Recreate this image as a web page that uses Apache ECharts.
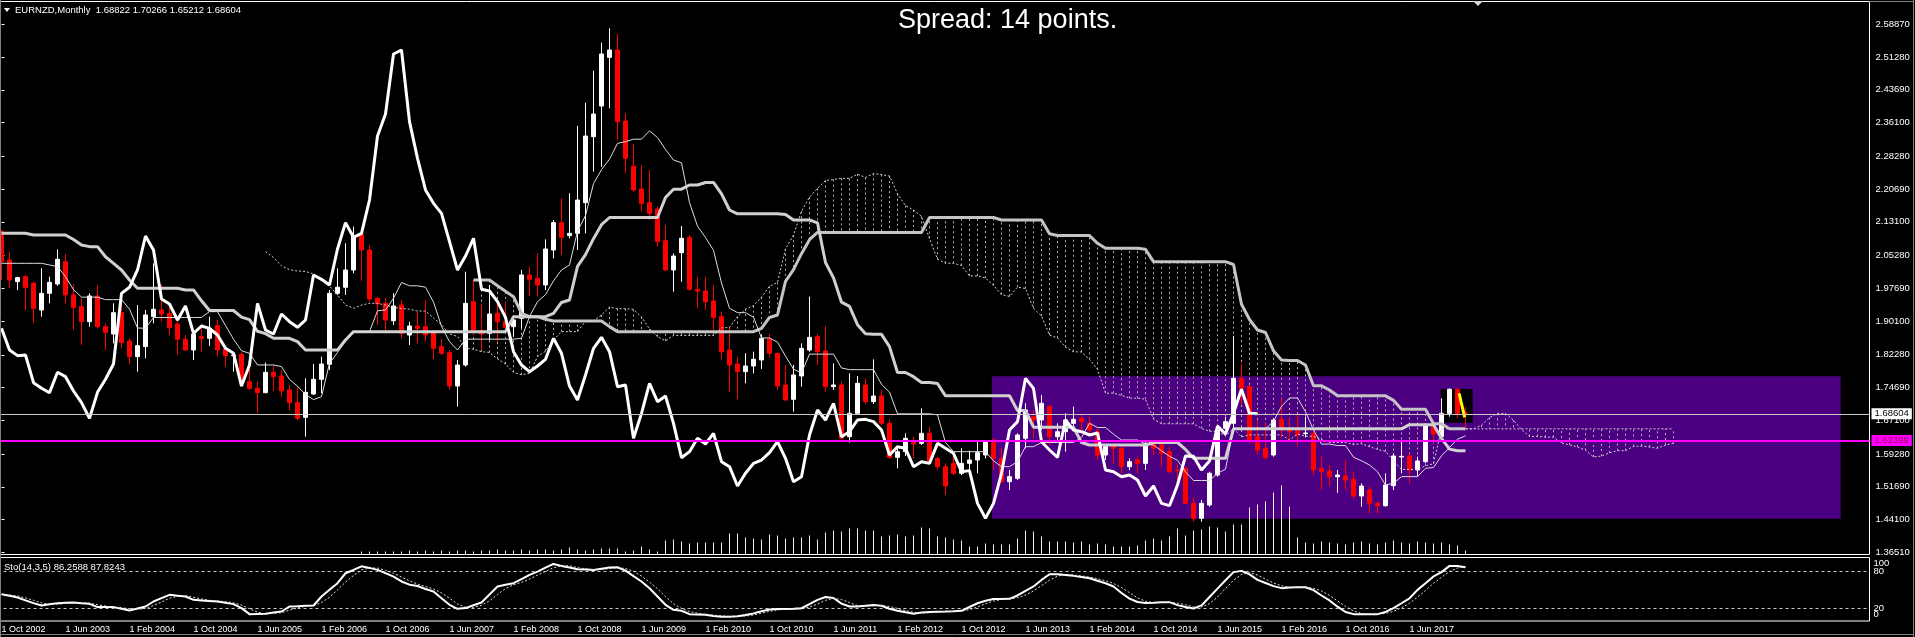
<!DOCTYPE html>
<html><head><meta charset="utf-8">
<script src="https://cdn.jsdelivr.net/npm/echarts/dist/echarts.min.js"></script>
<style>html,body{margin:0;padding:0;background:#000;overflow:hidden}#c{width:1915px;height:637px}</style>
</head><body><div id="c"></div>
<script>
// ---------- DATA (EURNZD monthly) ----------
const opens=[2.1082,2.0425,1.9923,2.0039,1.9884,1.9266,1.9652,1.9869,2.0386,1.9614,
1.9344,1.8996,1.9591,1.8880,1.8710,1.9204,1.8548,1.8185,1.8417,1.9112,
1.9266,1.9189,1.8942,1.8587,1.8339,1.8648,1.8610,1.8903,1.8362,1.8208,
1.8239,1.7605,1.7451,1.7350,1.7822,1.7736,1.7412,1.7119,1.6779,1.7320,
1.7660,1.8007,1.9652,1.9792,2.0193,2.1020,2.0657,1.9537,1.9420,1.9018,
1.9382,1.8686,1.8895,1.8880,1.8725,1.8416,1.8277,1.7504,1.7991,1.9459,
1.8787,1.8725,1.9189,1.8995,1.8880,1.9073,2.0077,2.0000,1.9845,2.0656,
2.1290,2.0989,2.1042,2.1753,2.3283,2.3993,2.5121,2.5291,2.3646,2.2600,
2.2070,2.1753,2.1606,2.0873,2.0193,2.0595,2.0950,1.9745,1.9706,1.9475,
1.9111,1.8339,1.8014,1.7837,1.7968,1.8107,1.8586,1.8262,1.7528,1.7196,
1.7736,1.8339,1.8648,1.8316,1.7489,1.7528,1.6330,1.6871,1.7528,1.7141,
1.7273,1.6639,1.5851,1.5983,1.6214,1.6176,1.6407,1.5828,1.5635,1.5712,
1.5481,1.5712,1.5789,1.5905,1.6253,1.5828,1.5287,1.5364,1.6292,1.6794,
1.6717,1.7025,1.6330,1.6446,1.6639,1.6755,1.6639,1.6446,1.5905,1.6098,
1.6060,1.5635,1.5789,1.5712,1.6176,1.6137,1.5983,1.5558,1.5597,1.4785,
1.4438,1.4747,1.5442,1.6523,1.6640,1.7682,1.7489,1.6330,1.6060,1.5906,
1.6732,1.6500,1.6469,1.6400,1.6407,1.5597,1.5535,1.5403,1.5419,1.5341,
1.4955,1.5095,1.4785,1.4731,1.5195,1.5860,1.5882,1.5558,1.5751,1.6577,
1.6330,1.6871,1.7427,1.68822];
const closes=[2.0386,1.9961,2.0016,1.9784,1.9305,1.9652,1.9907,2.0440,1.9614,1.9328,
1.8996,1.9591,1.8880,1.8749,1.9204,1.8509,1.8185,1.8440,1.9150,1.9282,
1.9174,1.8857,1.8587,1.8339,1.8710,1.8602,1.8841,1.8339,1.8208,1.8223,
1.7582,1.7451,1.7350,1.7822,1.7721,1.7389,1.7119,1.6756,1.7358,1.7660,
1.8015,1.9652,1.9792,2.0193,2.0981,2.0657,1.9521,1.9405,1.9034,1.9358,
1.8725,1.8895,1.8840,1.8686,1.8377,1.8262,1.7504,1.7991,1.9420,1.8802,
1.8709,1.9173,1.8995,1.8864,1.9034,2.0077,1.9977,1.9845,2.0679,2.1290,
2.0950,2.1042,2.1815,2.3298,2.3808,2.5199,2.5291,2.3630,2.2781,2.2047,
2.1738,2.1506,2.0849,2.0193,2.0517,2.0927,1.9745,1.9706,1.9459,1.9096,
1.8300,1.7991,1.7837,1.7968,1.8123,1.8609,1.8262,1.7504,1.7180,1.7760,
1.8377,1.8632,1.8300,1.7489,1.7528,1.6292,1.6871,1.7566,1.7141,1.7273,
1.6639,1.5843,1.5983,1.6292,1.6160,1.6407,1.5751,1.5635,1.5187,1.5481,
1.5712,1.5789,1.5960,1.6214,1.5828,1.5287,1.5403,1.6369,1.6948,1.6717,
1.7103,1.6330,1.6446,1.6717,1.6732,1.6678,1.6485,1.5905,1.6098,1.6060,
1.5635,1.5751,1.5712,1.6176,1.6060,1.5944,1.5519,1.5543,1.4785,1.4438,
1.4785,1.5481,1.6485,1.6678,1.7682,1.7450,1.6214,1.6021,1.5851,1.6716,
1.6485,1.6446,1.6369,1.6415,1.5558,1.5519,1.5403,1.5442,1.5326,1.4955,
1.5187,1.4785,1.4731,1.5210,1.5882,1.5874,1.5558,1.5766,1.6577,1.6392,
1.6871,1.7427,1.6871,1.68604];
const lows=[1.9961,1.9768,1.9730,1.9266,1.8957,1.9112,1.9421,1.9822,1.9421,1.8803,
1.8455,1.8880,1.8841,1.8339,1.8494,1.8378,1.8007,1.7837,1.8146,1.8957,
1.8996,1.8687,1.8223,1.8324,1.8108,1.8301,1.8432,1.8185,1.7953,1.7837,
1.7528,1.7412,1.6872,1.7335,1.7389,1.7258,1.6949,1.6717,1.6331,1.7297,
1.7335,1.7876,1.9614,1.9614,2.0116,1.9938,1.9459,1.8919,1.8802,1.8918,
1.8609,1.8455,1.8493,1.8532,1.8123,1.8223,1.7412,1.7026,1.7953,1.8686,
1.8339,1.8571,1.8532,1.8764,1.8650,1.8841,1.9590,1.9575,1.9729,2.0463,
2.0540,2.0927,2.0656,2.1042,2.2472,2.2588,2.3939,2.3206,2.2433,2.2008,
2.1545,2.1352,2.0733,2.0177,1.9691,1.9922,1.9714,1.9305,1.9266,1.8787,
1.8123,1.7373,1.7196,1.7566,1.7798,1.7900,1.8169,1.7412,1.7165,1.6910,
1.7489,1.8300,1.7991,1.7373,1.7412,1.6269,1.6191,1.6832,1.7087,1.7087,
1.6601,1.5828,1.5596,1.5882,1.5828,1.6137,1.5712,1.5550,1.4978,1.5442,
1.5442,1.5481,1.5481,1.5828,1.5558,1.5264,1.5094,1.5326,1.6060,1.6292,
1.6485,1.6137,1.6214,1.5983,1.6485,1.6446,1.6369,1.5789,1.5789,1.5712,
1.5481,1.5558,1.5481,1.5558,1.5905,1.5635,1.5481,1.5300,1.4770,1.4360,
1.4360,1.4708,1.5403,1.6407,1.6407,1.7064,1.6176,1.5906,1.5790,1.5867,
1.6292,1.6253,1.6098,1.6315,1.5442,1.5095,1.5172,1.5033,1.5110,1.4878,
1.4708,1.4554,1.4554,1.4708,1.5095,1.5481,1.5249,1.5403,1.5712,1.6176,
1.6292,1.6794,1.6755,1.65212];
const highs=[2.1120,2.0618,2.0039,2.0077,1.9923,2.0232,2.0039,2.0672,2.0564,1.9861,
1.9537,1.9652,1.9846,1.8957,1.9421,1.9421,1.8610,1.9382,1.9266,2.0348,
1.9861,1.9344,1.9035,1.8687,1.8803,1.8942,1.9112,1.9035,1.8440,1.8262,
1.8285,1.7915,1.7605,1.8046,1.7968,1.7876,1.7528,1.7490,1.7683,1.8015,
1.8185,1.9730,2.0232,2.0811,2.1198,2.1136,2.0773,1.9575,1.9536,1.9652,
1.9498,1.8995,1.9227,1.9498,1.8802,1.8586,1.8339,1.8107,2.0154,1.9961,
1.9420,1.9845,1.9498,1.9459,1.9111,2.0193,2.0270,2.0579,2.0903,2.1352,
2.1854,2.1970,2.3530,2.4071,2.4812,2.5461,2.5793,2.5662,2.3823,2.3113,
2.2626,2.2510,2.1661,2.1236,2.0579,2.1213,2.1004,2.0039,2.0039,1.9845,
1.9227,1.8880,1.8184,1.8262,1.8300,1.8700,1.8709,1.8277,1.7991,1.7991,
1.8493,1.9575,1.8709,1.8895,1.8030,1.7605,1.7798,1.7736,1.7682,1.8122,
1.7412,1.6732,1.6060,1.6407,1.6330,1.6987,1.6562,1.5866,1.5712,1.5929,
1.6060,1.6006,1.6214,1.6253,1.6292,1.6060,1.5558,1.6407,1.7103,1.6948,
1.7296,1.7064,1.6639,1.6871,1.7025,1.6832,1.6794,1.6524,1.6137,1.6176,
1.6098,1.5828,1.5866,1.6253,1.6268,1.6268,1.6098,1.5712,1.5635,1.4924,
1.4863,1.5519,1.6601,1.6794,1.8663,1.8030,1.7528,1.6716,1.6639,1.6755,
1.7219,1.6755,1.6832,1.6794,1.6485,1.5867,1.5674,1.5558,1.5790,1.5519,
1.5249,1.5172,1.4824,1.5481,1.5944,1.6253,1.5944,1.5867,1.6639,1.6678,
1.7219,1.7450,1.7450,1.70266];
// tick volume (relative units)
const volumes=[0,0,0,0,0,0,0,0,0,0, 0,0,0,0,0,0,0,0,0,0, 0,0,0,0,0,0,0,0,0,0, 0,0,0,0,0,0,0,0,0,0, 0,0,0,0,0,
3,3,3,3,3,3,4,3,4,3,4,3,4,4,3,4,4,5,4,4,5,4,5,5,4,
5,7,5,4,5,6,6,6,3,4, 8,5,3,14,15,13,11,12,12,12, 12,21,21,17,16,15,20,19,16,17, 17,19,15,22,24,23,26,26,24,24,
18,19,20,18,19,27,26,18,17,15, 14,8,8,11,10,10,10,16,24,23, 18,13,13,13,12,13,10,11,10,8, 8,8,9,14,16,14,18,26,19,24,
25,28,27,23,30,30,47,50,53,62,69,48,17,
12,11,13,12,11,10,12,13,11,10,12,14,12,11,13,12,11,12,10,9,4];
// Stochastic %K (14,3,5)
const stochK=[43.1,40.4,37.7,33.2,28.7,24.9,26.8,28.7,29.2,29.7,
28.6,27.6,22.3,22.3,22.3,19.6,16.9,20.1,23.3,31.3,
36.7,42.0,40.7,39.4,34.0,33.1,32.2,31.3,29.2,27.1,
20.7,11.0,11.3,11.6,13.5,15.3,23.3,23.8,24.4,24.9,
39.4,50.1,60.7,76.7,82.0,87.8,85.3,82.1,76.8,71.4,
63.5,58.4,56.2,51.4,47.4,36.6,26.0,19.6,20.7,25.2,
29.7,42.6,55.4,58.1,60.7,67.4,74.1,79.4,85.6,91.7,
88.5,85.8,83.1,82.6,82.1,84.0,85.9,86.3,81.0,72.0,
63.4,52.7,39.4,26.0,18.0,16.4,11.0,10.5,10.0,8.0,
7.0,6.8,7.6,9.5,12.2,15.8,18.4,19.1,19.1,19.5,
20.5,27.0,34.0,38.5,37.0,28.0,23.3,23.3,24.5,25.7,
24.5,19.7,16.4,14.0,11.6,13.5,14.5,14.9,15.3,15.8,
16.4,22.5,28.5,32.5,35.2,35.4,35.6,41.0,48.5,55.5,
66.0,75.1,75.1,74.0,72.5,70.6,68.7,64.7,60.7,55.4,
45.0,36.0,30.5,29.0,29.5,30.3,30.3,25.5,22.5,20.0,
25.0,38.5,52.0,65.5,78.5,80.5,75.0,66.0,61.0,56.0,
52.8,53.8,54.3,54.3,49.5,41.0,33.0,23.0,14.5,11.0,
11.0,11.0,11.0,14.5,20.7,28.5,36.5,50.0,60.5,71.5,
78.5,88.5,88.5,86.26];
// indicator values at the left edge (history before first visible bar)
const tenkanEarly=[2.0348,2.0348,2.0348,2.0348,2.0348,2.0348,2.0310,2.0270];
const kijunEarly=[2.1043,2.1043,2.1043,2.1043,2.1004,2.1004,2.1004,2.1004,2.1004,2.0900,2.0773,2.0734,2.0734,2.0500,2.0348,2.0193,1.9961,1.9768,1.9768,1.9768,1.9768,1.9768,1.9768,1.9730,1.9730];
const spanAEarly=[2.0618,2.0480,2.0290,2.0200,2.0170,2.0160,2.0100,1.9950,1.9820,1.9614,1.9382,1.9305,1.9380,1.9421,1.9421,1.9380,1.9330,1.9300]; // bars 33..50
const spanBEarly=[1.9961,1.9961,1.9961,1.9830,1.9700,1.9575,1.9190,1.9111,1.9111,1.9050,1.9010,1.9010,1.9010,1.9010,1.9010,1.9010,1.9010,1.8880]; // bars 59..76
const priceTicks=[1.36510,1.44100,1.51690,1.59280,1.67100,1.74690,1.82280,1.90100,1.97690,2.05280,2.13100,2.20690,2.28280,2.36100,2.43690,2.51280,2.58870];
const stochLevelTicks=[20,80];
const stochEdgeTicks=[0,100];
const stochLevels=[20,80];
const xTickLabels=['1 Oct 2002','1 Jun 2003','1 Feb 2004','1 Oct 2004','1 Jun 2005','1 Feb 2006','1 Oct 2006','1 Jun 2007','1 Feb 2008','1 Oct 2008','1 Jun 2009','1 Feb 2010','1 Oct 2010','1 Jun 2011','1 Feb 2012','1 Oct 2012','1 Jun 2013','1 Feb 2014','1 Oct 2014','1 Jun 2015','1 Feb 2016','1 Oct 2016','1 Jun 2017'];
const hLinePrice=1.62399;
const zoneBox={x1:123.8,x2:229.9,top:1.7729,bottom:1.4429};
const lastBox={x1:179.9,x2:183.9,top:1.7435,bottom:1.6654};
const arrowPts=[[182.2,1.7335],[182.9,1.6779]];
const stoHeader='Sto(14,3,5) 86.2588 87.8243';
const chartHeader='EURNZD,Monthly  1.68822 1.70266 1.65212 1.68604';
const spreadText='Spread: 14 points.';

// ---------- derived ----------
const N=closes.length, FUT=26, NCAT=234;
const months=[];
for(let i=0;i<NCAT;i++){const m=9+i;months.push((2002+Math.floor(m/12))+'-'+String(m%12+1).padStart(2,'0'));}
function midHL(a,b){let hi=-Infinity,lo=Infinity;for(let k=a;k<=b;k++){if(highs[k]>hi)hi=highs[k];if(lows[k]<lo)lo=lows[k];}return +((hi+lo)/2).toFixed(5);}
const tenkan=closes.map((_,i)=>i>=8?midHL(i-8,i):tenkanEarly[i]);
const kijun=closes.map((_,i)=>i>=25?midHL(i-25,i):kijunEarly[i]);
const spanA=[],spanB=[];
for(let i=0;i<N+FUT;i++){
  spanA.push(i>=51?+((tenkan[i-26]+kijun[i-26])/2).toFixed(5):(i>=33?spanAEarly[i-33]:null));
  spanB.push(i>=77?midHL(i-77,i-26):(i>=59?spanBEarly[i-59]:null));
}
const spanBThick=spanB.map((v,i)=>i<N?v:null);
const spanBFuture=spanB.map((v,i)=>i>=N-1?v:null);
const chikou=closes.slice(26);
const hatch=[];for(let i=0;i<spanA.length;i++){if(spanA[i]!=null&&spanB[i]!=null)hatch.push([i,spanA[i],spanB[i]]);}
const stochD=stochK.map((_,i)=>{const s=stochK.slice(Math.max(0,i-2),i+1);return +(s.reduce((a,b)=>a+b,0)/s.length).toFixed(2);});
const candles=opens.map((o,i)=>[o,closes[i],lows[i],highs[i]]);
const lastClose=closes[N-1];

const FONT='"Liberation Sans", Arial, sans-serif';
const W='#ffffff';
const chart=echarts.init(document.getElementById('c'),null,{renderer:'canvas',width:1915,height:637});
const stochAxisBase={type:'value',gridIndex:1,position:'right',offset:0,min:0,max:102,
  axisLine:{show:false},splitLine:{show:false},axisTick:{show:false}};
const option={
  backgroundColor:'#000',animation:false,
  grid:[
    {left:-2.5,top:1.5,width:1872,height:553,show:true,borderColor:W,borderWidth:1,backgroundColor:'transparent',containLabel:false,outerBoundsMode:'none'},
    {left:-2.5,top:557.5,width:1872,height:63.5,show:true,borderColor:W,borderWidth:1,backgroundColor:'transparent',containLabel:false,outerBoundsMode:'none'}
  ],
  xAxis:[
    {type:'category',gridIndex:0,data:months,boundaryGap:true,show:false},
    {type:'category',gridIndex:1,data:months,boundaryGap:true,
      axisLine:{show:false},axisTick:{show:false},splitLine:{show:false},
      axisLabel:{show:true,color:W,fontSize:9,fontFamily:FONT,align:'left',margin:4,hideOverlap:false,
        interval:(idx)=>idx%8===0&&idx/8<xTickLabels.length,
        formatter:(v,idx)=>xTickLabels[Math.round(idx/8)]||''}},
    {type:'value',gridIndex:0,min:-0.5,max:233.5,show:false}
  ],
  yAxis:[
    {type:'value',gridIndex:0,position:'right',min:1.359946,max:2.641524,
      axisLine:{show:false},splitLine:{show:false},
      axisTick:{show:true,length:3,lineStyle:{color:W},customValues:priceTicks},
      axisLabel:{show:true,color:W,fontSize:9.5,fontFamily:FONT,margin:6,hideOverlap:false,customValues:priceTicks,formatter:v=>v.toFixed(5)}},
    {type:'value',gridIndex:0,min:0,max:553,show:false},
    Object.assign({},stochAxisBase,{
      axisLabel:{show:true,margin:4,customValues:stochLevelTicks,hideOverlap:false,color:W,fontSize:9.5,fontFamily:FONT,formatter:v=>String(v)}}),
    Object.assign({},stochAxisBase,{
      axisLabel:{show:true,margin:4,customValues:stochEdgeTicks,showMinLabel:true,showMaxLabel:true,hideOverlap:false,color:W,fontSize:9.5,fontFamily:FONT,
        formatter:v=>v===100?'{a|100}':'{b|0}',
        rich:{a:{padding:[9,0,0,0],color:W,fontSize:9.5,fontFamily:FONT},
              b:{padding:[0,0,13,0],color:W,fontSize:9.5,fontFamily:FONT}}}})
  ],
  series:[
    {name:'volume',type:'bar',xAxisIndex:0,yAxisIndex:1,data:volumes,barWidth:1,itemStyle:{color:'#f0f0f0'},z:2,silent:true},
    {name:'objects',type:'line',xAxisIndex:2,yAxisIndex:0,data:arrowPts,symbol:'none',z:4,silent:true,
      lineStyle:{color:'#ffff00',width:3},
      markArea:{silent:true,z:1,data:[
        [{coord:[zoneBox.x1,zoneBox.top],itemStyle:{color:'#4b0082',opacity:1}},{coord:[zoneBox.x2,zoneBox.bottom]}],
        [{coord:[lastBox.x1,lastBox.top],itemStyle:{color:'#000000',opacity:1}},{coord:[lastBox.x2,lastBox.bottom]}]
      ]}},
    {name:'kumo',type:'custom',xAxisIndex:0,yAxisIndex:0,data:hatch,z:2,silent:true,
      encode:{x:0,y:[1,2]},
      renderItem:(params,api)=>{
        const a=api.coord([api.value(0),api.value(1)]);
        const b=api.coord([api.value(0),api.value(2)]);
        return {type:'line',shape:{x1:a[0],y1:a[1],x2:b[0],y2:b[1]},style:{stroke:'#b4b4b4',lineWidth:1,lineDash:[2,3]}};
      }},
    {name:'EURNZD',type:'candlestick',xAxisIndex:0,yAxisIndex:0,data:candles,barWidth:5,z:3,silent:true,
      itemStyle:{color:W,color0:'#ff0000',borderColor:W,borderColor0:'#ff0000',borderWidth:1},
      markLine:{silent:true,symbol:['none','none'],z:5,precision:5,data:[
        {yAxis:lastClose,lineStyle:{color:'#c8c8c8',width:1,type:'solid'},
          label:{show:true,position:'end',distance:2,formatter:()=>lastClose.toFixed(5),color:'#000',backgroundColor:'#fff',padding:[1,3,0,3],fontSize:9.5,fontFamily:FONT}},
        {yAxis:hLinePrice,lineStyle:{color:'#ff00ff',width:2,type:'solid'},
          label:{show:true,position:'end',distance:2,formatter:()=>hLinePrice.toFixed(5),color:'#9a0050',backgroundColor:'#ff00ff',padding:[1,3,0,3],fontSize:9.5,fontFamily:FONT}}
      ]}},
    {name:'Senkou B',type:'line',xAxisIndex:0,yAxisIndex:0,data:spanBThick,symbol:'none',z:4,silent:true,connectNulls:false,lineStyle:{color:'#c4c4c4',width:3}},
    {name:'Senkou A',type:'line',xAxisIndex:0,yAxisIndex:0,data:spanA,symbol:'none',z:4,silent:true,connectNulls:false,lineStyle:{color:'#d0d0d0',width:1,type:[2,2]}},
    {name:'Senkou B fut',type:'line',xAxisIndex:0,yAxisIndex:0,data:spanBFuture,symbol:'none',z:4,silent:true,connectNulls:false,lineStyle:{color:'#d0d0d0',width:1,type:[2,2]}},
    {name:'Kijun',type:'line',xAxisIndex:0,yAxisIndex:0,data:kijun,symbol:'none',z:4,silent:true,lineStyle:{color:'#d0d0d0',width:3}},
    {name:'Tenkan',type:'line',xAxisIndex:0,yAxisIndex:0,data:tenkan,symbol:'none',z:4,silent:true,lineStyle:{color:'#dcdcdc',width:1}},
    {name:'Chikou',type:'line',xAxisIndex:0,yAxisIndex:0,data:chikou,symbol:'none',z:4,silent:true,lineStyle:{color:'#ffffff',width:3}},
    {name:'%K',type:'line',xAxisIndex:1,yAxisIndex:2,data:stochK,symbol:'none',z:4,silent:true,lineStyle:{color:'#ffffff',width:2},
      markLine:{silent:true,symbol:['none','none'],z:3,label:{show:false},
        data:stochLevels.map(v=>({yAxis:v})),lineStyle:{color:'#c8c8c8',width:1,type:[3,3]}}},
    {name:'%D',type:'line',xAxisIndex:1,yAxisIndex:2,data:stochD,symbol:'none',z:4,silent:true,lineStyle:{color:'#e0e0e0',width:1,type:[2,2]}}
  ],
  graphic:[
    {type:'text',x:15,y:10,z:100,style:{text:chartHeader,fill:W,font:'9.5px '+FONT,verticalAlign:'middle'}},
    {type:'polygon',z:100,shape:{points:[[4,8],[10,8],[7,12]]},style:{fill:W}},
    {type:'text',x:898,y:21,z:100,style:{text:spreadText,fill:W,font:'27px '+FONT,verticalAlign:'middle'}},
    {type:'text',x:4,y:567,z:100,style:{text:stoHeader,fill:W,font:'9.5px '+FONT,verticalAlign:'middle'}},
    {type:'polygon',z:100,shape:{points:[[1473,1],[1483,1],[1478,6]]},style:{fill:'#d8d8d8'}},
    {type:'line',z:100,shape:{x1:0.5,y1:0,x2:0.5,y2:637},style:{stroke:'#808080',lineWidth:1}},
    {type:'line',z:100,shape:{x1:1913.5,y1:0,x2:1913.5,y2:637},style:{stroke:'#808080',lineWidth:1}},
    {type:'line',z:100,shape:{x1:1869,y1:1.5,x2:1913,y2:1.5},style:{stroke:'#808080',lineWidth:1}},
    {type:'line',z:100,shape:{x1:0,y1:634.5,x2:1913,y2:634.5},style:{stroke:'#808080',lineWidth:1}}
  ]
};
chart.setOption(option);
</script>
</body></html>
